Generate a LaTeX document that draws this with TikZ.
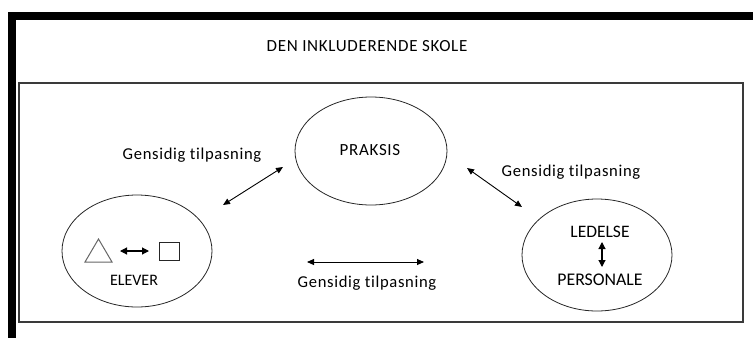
\documentclass[tikz,border=0pt]{standalone}
\usepackage{fontspec}
\setmainfont{Carlito}
\newfontfamily\spaced[LetterSpace=4,Ligatures={NoCommon}]{Carlito}
\newfontfamily\plainf[Ligatures={NoCommon}]{Carlito}
\usetikzlibrary{shapes.geometric,arrows.meta}
\definecolor{framegray}{HTML}{3A3A3A}
\tikzset{
  bubble/.style={ellipse, draw=black!85, line width=0.8pt, inner sep=0pt},
  twoway/.style={{Triangle[length=7pt,width=6pt]}-{Triangle[length=7pt,width=6pt]}, line width=0.9pt, black},
  smallway/.style={{Triangle[length=7pt,width=7pt]}-{Triangle[length=7pt,width=7pt]}, line width=1.1pt, black},
  lbl/.style={inner sep=0pt, anchor=center, text=black}
}
\begin{document}
\begin{tikzpicture}[x=1pt,y=-1pt]
\useasboundingbox (0,0) rectangle (753,338);
% thick outer frame (top and left)
\fill[black] (8,12) rectangle (753,20);
\fill[black] (8,12) rectangle (16,338);
% inner frame
\draw[framegray, line width=1.3pt] (19,83) rectangle (743,322);
% title
\node[lbl] (title) at (367,46) {\fontsize{17}{20}\spaced DEN INKLUDERENDE SKOLE};
% ellipses
\node[bubble, minimum width=152pt, minimum height=108pt] (praksis) at (371,151) {};
\node[bubble, minimum width=150pt, minimum height=112pt] (elever) at (137,251) {};
\node[bubble, minimum width=150pt, minimum height=112pt] (ledelse) at (597,255) {};
% texts inside ellipses
\node[lbl] (tpraksis) at (370,150) {\fontsize{17}{20}\spaced PRAKSIS};
\node[lbl] (telever) at (134,280) {\fontsize{16}{18}\plainf ELEVER};
\node[lbl] (tledelse) at (600,232) {\fontsize{17.5}{20}\plainf LEDELSE};
\node[lbl] (tpersonale) at (600,280) {\fontsize{17.8}{20}\plainf PERSONALE};
% triangle and square in ELEVER
\coordinate (t1) at (85,262);
\coordinate (t2) at (112,262);
\coordinate (t3) at (98.5,239);
\draw[black!60, line width=1pt, line join=miter] (t1) -- (t2) -- (t3) -- cycle;
\node[draw=black!85, line width=0.9pt, minimum width=20pt, minimum height=18pt, inner sep=0pt] (sq) at (169,251) {};
\coordinate (e1) at (120,251);
\coordinate (e2) at (149,251);
\draw[smallway] (e1) -- (e2);
% vertical arrow in right ellipse
\coordinate (v1) at (602,242);
\coordinate (v2) at (602,267);
\draw[smallway] (v1) -- (v2);
% connectors between ellipses
\coordinate (a1) at (223,205);
\coordinate (a2) at (283,167);
\draw[twoway] (a1) -- (a2);
\coordinate (b1) at (467,168);
\coordinate (b2) at (522,207);
\draw[twoway] (b1) -- (b2);
\coordinate (c1) at (307,262);
\coordinate (c2) at (424,262);
\draw[twoway] (c1) -- (c2);
% labels
\node[lbl] (gl) at (192,155) {\fontsize{16.6}{19}\spaced Gensidig tilpasning};
\node[lbl] (gr) at (571,172) {\fontsize{16.6}{19}\spaced Gensidig tilpasning};
\node[lbl] (gb) at (367,283) {\fontsize{16.6}{19}\spaced Gensidig tilpasning};
\end{tikzpicture}
\end{document}
